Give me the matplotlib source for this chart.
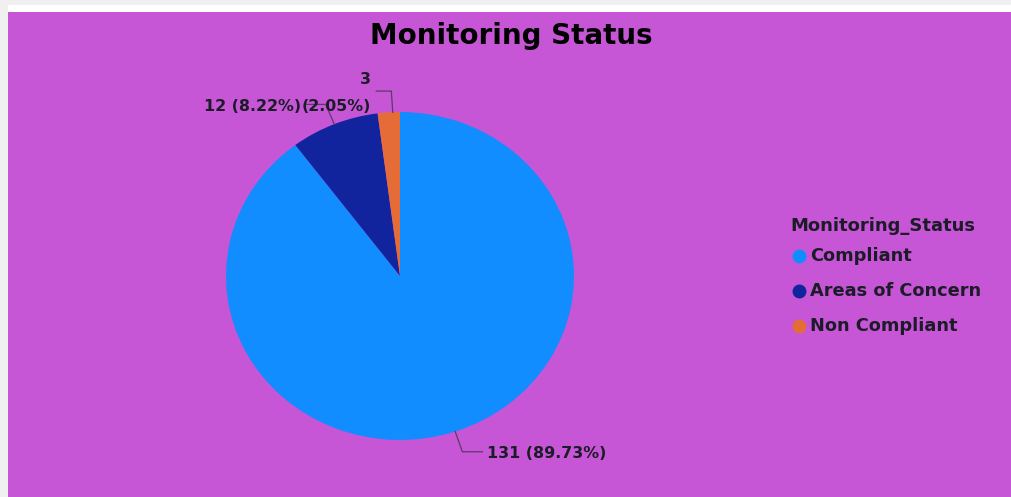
import numpy as np
import matplotlib
matplotlib.use("Agg")
import matplotlib.pyplot as plt
from matplotlib.patches import Rectangle
from matplotlib.lines import Line2D

categories = ["Compliant", "Areas of Concern", "Non Compliant"]
counts = [131, 12, 3]
colors = ["#118DFF", "#12239E", "#E66C37"]
title = "Monitoring Status"
legend_title = "Monitoring_Status"

W, H = 1011, 497
fig = plt.figure(figsize=(W / 100, H / 100), dpi=100)
fig.patch.set_facecolor("#f0f0f0")

def fx(px):
    return px / W

def fy(py):
    return 1 - py / H

# background axes with white top strip and purple panel
bg = fig.add_axes([0, 0, 1, 1], zorder=-10)
bg.set_xlim(0, W)
bg.set_ylim(H, 0)
bg.axis("off")
bg.add_patch(Rectangle((8, 5), W - 8, 7, facecolor="white", edgecolor="none"))
bg.add_patch(Rectangle((8, 12), W - 8, H - 12, facecolor="#c656d6",
                       edgecolor="none"))

txt_color = "#1c1c28"

fig.text(fx(511), fy(36), title, ha="center", va="center", fontsize=20,
         fontweight="bold", family="DejaVu Sans", color="black")

# pie axes (slightly elliptical, like the reference)
cx, cy, rx, ry = 400, 276, 174, 164
ax = fig.add_axes([fx(cx - rx), fy(cy + ry), 2 * rx / W, 2 * ry / H], zorder=1)
ax.set_facecolor("none")
ax.axis("off")
wedges, _ = ax.pie(counts, colors=colors, startangle=90, counterclock=False,
                   radius=1.0, wedgeprops=dict(linewidth=0))
ax.set_aspect("auto")
ax.set_xlim(-1, 1)
ax.set_ylim(-1, 1)

total = sum(counts)
labels = [f"{c} ({c / total * 100:.2f}%)" for c in counts]
labels[2] = f"{counts[2]}\n({counts[2] / total * 100:.2f}%)"

gap = 5 / rx
for i, (w, lab) in enumerate(zip(wedges, labels)):
    mid = np.deg2rad((w.theta1 + w.theta2) / 2)
    x0, y0 = np.cos(mid), np.sin(mid)
    if i == 2:
        x0 += 4 / rx
    x1, y1 = x0 * 1.0 + 0.13 * np.cos(mid), 1.13 * y0
    side = 1 if np.cos(mid) > 0 else -1
    hlen = (15 if i == 2 else 20) / rx
    x2 = x1 + side * hlen
    ax.plot([x0, x1, x2], [y0, y1, y1], color="#5a3a66", lw=0.9,
            clip_on=False)
    ax.text(x2 + side * gap, y1 - 2 / ry, lab,
            ha="left" if side > 0 else "right",
            va="center", fontsize=11.4, fontweight="bold", color=txt_color,
            family="DejaVu Sans", linespacing=1.95, clip_on=False)

# legend
fig.text(fx(790), fy(226), legend_title, ha="left", va="center", fontsize=13,
         fontweight="bold", color=txt_color, family="DejaVu Sans")
for i, (cat, col) in enumerate(zip(categories, colors)):
    y = 256 + 35 * i
    fig.lines.append(Line2D([fx(799)], [fy(y)], marker="o", markersize=9,
                            color=col, transform=fig.transFigure))
    fig.text(fx(810), fy(y), cat, ha="left", va="center", fontsize=12.8,
             fontweight="bold", color=txt_color, family="DejaVu Sans")

fig.savefig("out.png", dpi=100, facecolor=fig.get_facecolor())
